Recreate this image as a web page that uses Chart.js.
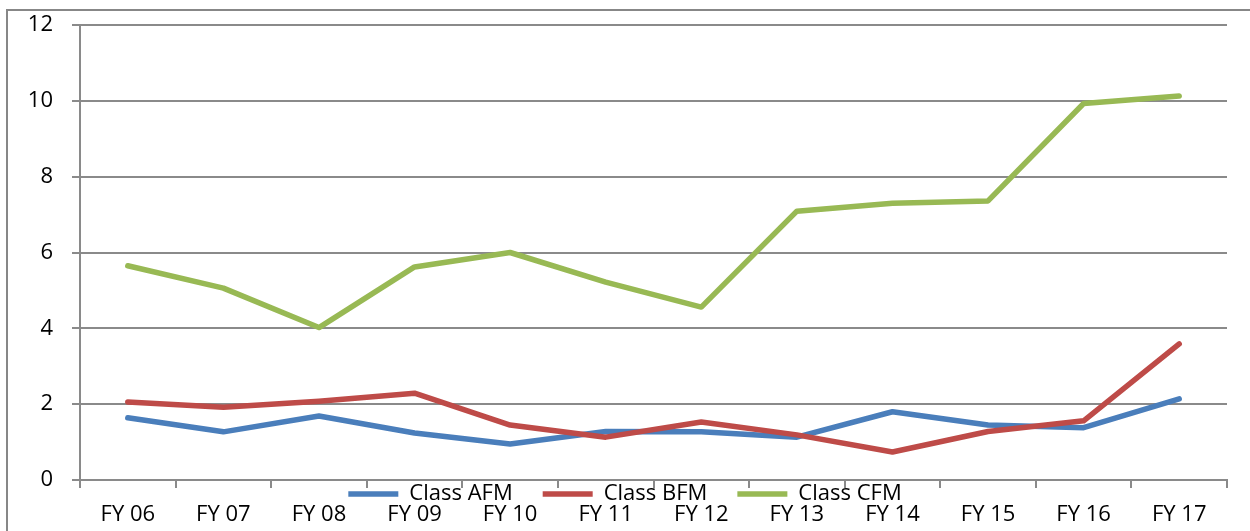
<!DOCTYPE html>
<html><head><meta charset="utf-8">
<script src="https://cdn.jsdelivr.net/npm/chart.js@4/dist/chart.umd.min.js"></script>
<style>
html,body{margin:0;padding:0;background:#fff;overflow:hidden;width:1250px;height:531px;}
#frame{position:absolute;left:6px;top:9px;width:1300px;height:600px;border:2px solid #878787;box-sizing:border-box;}
#c{position:absolute;left:0;top:0;}
</style></head><body>
<div id="frame"></div>
<canvas id="c" width="1250" height="531"></canvas>
<script>
const categories = ['FY 06','FY 07','FY 08','FY 09','FY 10','FY 11','FY 12','FY 13','FY 14','FY 15','FY 16','FY 17'];
const classAFM = [1.64, 1.27, 1.69, 1.24, 0.95, 1.28, 1.27, 1.13, 1.80, 1.45, 1.38, 2.14];
const classBFM = [2.06, 1.92, 2.08, 2.29, 1.45, 1.13, 1.53, 1.19, 0.74, 1.28, 1.56, 3.59];
const classCFM = [5.65, 5.06, 4.02, 5.62, 6.00, 5.22, 4.56, 7.09, 7.30, 7.36, 9.93, 10.13];
const seriesNames = ['Class AFM', 'Class BFM', 'Class CFM'];
const yTicks = [0, 2, 4, 6, 8, 10, 12];

const gridColor = '#8a8a8a';
const fontFamily = '"Open Sans", Lato, sans-serif';
const fontSize = 22;

const legendShift = {
  id: 'legendShift',
  afterLayout(chart) {
    const L = chart.legend;
    if (!L) return;
    const pad = L.options.labels.padding;
    const fs = L.options.labels.font.size;
    const target = chart.chartArea.bottom + 14;
    L.top = target - pad - fs / 2;
    L.height = pad + fs + 20;
    L.bottom = L.top + L.height;
    L.left = 0;
    L.right = chart.width;
    L.width = chart.width;
  }
};

function mk(label, data, color, order) {
  return {
    label, data, borderColor: color, backgroundColor: color,
    borderWidth: 5.5, pointRadius: 0, pointHoverRadius: 0, tension: 0,
    borderCapStyle: 'round', borderJoinStyle: 'round', fill: false, order
  };
}

new Chart(document.getElementById('c'), {
  type: 'line',
  data: {
    labels: categories,
    datasets: [
      mk(seriesNames[0], classAFM, '#4a7ebb', 2),
      mk(seriesNames[1], classBFM, '#be4b48', 1),
      mk(seriesNames[2], classCFM, '#98b954', 0)
    ]
  },
  options: {
    responsive: false,
    animation: false,
    devicePixelRatio: 1,
    layout: { padding: { left: 0, top: 25, right: 23, bottom: 2 } },
    plugins: {
      tooltip: { enabled: false },
      legend: {
        position: 'bottom',
        maxHeight: 1,
        labels: {
          usePointStyle: true,
          pointStyle: 'line',
          pointStyleWidth: 50,
          padding: 30,
          color: '#000',
          font: { family: fontFamily, size: fontSize },
          sort: (a, b) => a.datasetIndex - b.datasetIndex
        }
      }
    },
    scales: {
      x: {
        type: 'category',
        offset: true,
        afterFit: s => { s.height = 48; },
        grid: { offset: true, drawOnChartArea: false, drawTicks: true, tickLength: 8, color: gridColor, lineWidth: 2 },
        border: { display: true, color: gridColor, width: 2 },
        ticks: { color: '#000', padding: 14, maxRotation: 0, autoSkip: false, font: { family: fontFamily, size: fontSize } }
      },
      y: {
        min: 0, max: 12,
        afterFit: s => { s.width = 80; s.paddingTop = 10; s.paddingBottom = 10; },
        afterBuildTicks: s => { s.ticks = yTicks.map(v => ({ value: v })); },
        grid: { color: gridColor, lineWidth: 2, drawTicks: true, tickLength: 8 },
        border: { display: true, color: gridColor, width: 2 },
        ticks: { color: '#000', padding: 19, font: { family: fontFamily, size: fontSize } }
      }
    }
  },
  plugins: [legendShift]
});
</script>
</body></html>
